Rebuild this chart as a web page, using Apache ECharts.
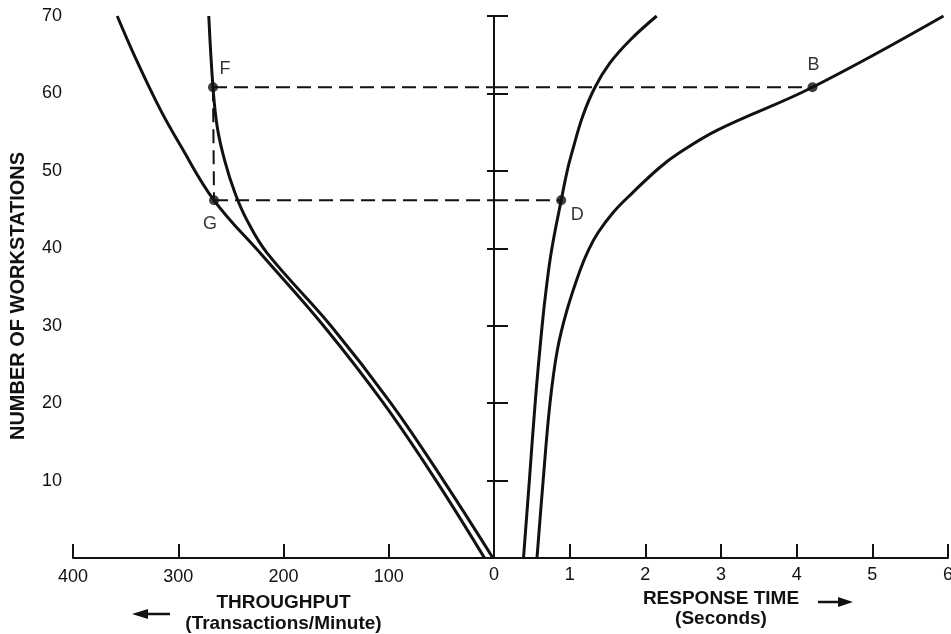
<!DOCTYPE html>
<html>
<head>
<meta charset="utf-8">
<title>Workstations vs throughput and response time</title>
<script src="https://cdn.jsdelivr.net/npm/echarts@6/dist/echarts.min.js"></script>
<style>
    html, body { margin: 0; padding: 0; background: #fff; }
    #chart { width: 951px; height: 634px; }
</style>
</head>
<body>
<div id="chart"></div>
<script>
// throughput curves: [transactions/minute, workstations]
var throughputOuter = [[9, 0], [55, 10], [105, 20], [162, 30], [219, 38.9], [266, 46.2],
    [298, 53.3], [317, 57.9], [341, 64.7], [358, 70]];
var throughputInner = [[1, 0], [48, 10], [98, 20], [155, 30], [215.7, 39.4], [235, 43.7],
    [246, 47.1], [256, 51.4], [263, 55.7], [267, 60.8], [271, 70]];

// response time curves: [seconds, workstations]
var responseD = [[0.39, 0], [0.468, 10.1], [0.547, 20.4], [0.634, 29.8], [0.688, 34.6], [0.762, 39.8],
    [0.888, 46.2], [0.97, 50.1], [1.04, 52.7], [1.17, 57], [1.33, 60.7], [1.53, 63.9],
    [1.80, 66.9], [2.15, 70]];
var responseB = [[0.568, 0], [0.647, 9.7], [0.74, 20], [0.838, 26.9], [0.964, 32], [1.139, 37.2],
    [1.25, 39.8], [1.374, 42], [1.572, 44.6], [1.823, 47.1], [2.186, 50.4], [2.444, 52.3],
    [2.959, 55.3], [4.209, 60.8], [5.94, 70]];

// marked points
var pointF = [267, 60.8];
var pointG = [266, 46.2];
var pointD = [0.888, 46.2];
var pointB = [4.209, 60.8];

var workstationTicks = [0, 10, 20, 30, 40, 50, 60, 70];
var throughputTicks = [0, 100, 200, 300, 400];
var responseTicks = [0, 1, 2, 3, 4, 5, 6];

var FONT = '"Liberation Sans", Arial, sans-serif';
var INK = '#111';

function solidLine(name, xi, yi, data) {
    return {
        name: name, type: 'line', xAxisIndex: xi, yAxisIndex: yi,
        data: data, smooth: 0.4, symbol: 'none', silent: true,
        lineStyle: { color: INK, width: 3 }
    };
}

function dashedLine(name, xi, yi, data) {
    return {
        name: name, type: 'line', xAxisIndex: xi, yAxisIndex: yi,
        data: data, symbol: 'none', silent: true,
        lineStyle: { color: INK, width: 2, type: [14, 7] }
    };
}

function markPoint(name, xi, yi, point, offset) {
    return {
        name: name, type: 'scatter', xAxisIndex: xi, yAxisIndex: yi,
        data: [point], symbolSize: 10, silent: true, z: 5,
        itemStyle: { color: INK },
        label: {
            show: true, formatter: name, position: 'inside', offset: offset,
            color: '#000', fontSize: 18, fontFamily: FONT, textBorderWidth: 0
        }
    };
}

function wsAxis(gridIndex, position, showLabels, tickLen, name) {
    return {
        type: 'value', gridIndex: gridIndex, position: position,
        min: workstationTicks[0], max: workstationTicks[workstationTicks.length - 1], interval: 10,
        name: name, nameLocation: 'middle', nameGap: 45,
        nameTextStyle: {
            color: INK, fontWeight: 'bold', fontSize: 20, fontFamily: FONT,
            padding: [0, 18, 0, 0]
        },
        axisLine: { show: true, lineStyle: { color: INK, width: 2 } },
        axisTick: { show: true, inside: true, length: tickLen, lineStyle: { color: INK, width: 2 } },
        axisLabel: {
            show: showLabels, color: INK, fontSize: 18, fontFamily: FONT, margin: 11,
            formatter: function (v) { return v === 0 ? '' : v; }
        },
        splitLine: { show: false }
    };
}

var chart = echarts.init(document.getElementById('chart'));
var options = {
    backgroundColor: '#fff',
    animation: false,
    grid: [
        { left: 73, right: 457, top: 16, bottom: 76, outerBoundsMode: 'none' },
        { left: 494, right: 3, top: 16, bottom: 76, outerBoundsMode: 'none' }
    ],
    xAxis: [{
        type: 'value', gridIndex: 0, inverse: true,
        min: throughputTicks[0], max: throughputTicks[throughputTicks.length - 1], interval: 100,
        name: '{a|THROUGHPUT}\n{a|(Transactions/Minute)}',
        nameLocation: 'middle', nameGap: 34,
        nameTextStyle: {
            color: INK, fontFamily: FONT,
            rich: { a: { fontWeight: 'bold', fontSize: 19, lineHeight: 21, color: INK, fontFamily: FONT } }
        },
        axisLine: { lineStyle: { color: INK, width: 2 } },
        axisTick: { inside: true, length: 14, lineStyle: { color: INK, width: 2 } },
        axisLabel: {
            color: INK, fontSize: 18, fontFamily: FONT, margin: 10,
            formatter: function (v) { return v === 0 ? '' : v; }
        },
        splitLine: { show: false }
    }, {
        type: 'value', gridIndex: 1,
        min: responseTicks[0], max: responseTicks[responseTicks.length - 1], interval: 1,
        name: '{a|RESPONSE TIME}\n{a|(Seconds)}',
        nameLocation: 'middle', nameGap: 22,
        nameTextStyle: {
            color: INK, fontFamily: FONT,
            rich: { a: { fontWeight: 'bold', fontSize: 19, lineHeight: 20, color: INK, fontFamily: FONT } }
        },
        axisLine: { lineStyle: { color: INK, width: 2 } },
        axisTick: { inside: true, length: 14, lineStyle: { color: INK, width: 2 } },
        axisLabel: { color: INK, fontSize: 18, fontFamily: FONT, margin: 8, showMaxLabel: true },
        splitLine: { show: false }
    }],
    yAxis: [
        wsAxis(0, 'left', true, 14, 'NUMBER OF WORKSTATIONS'),
        wsAxis(0, 'right', false, 7, ''),
        wsAxis(1, 'left', false, 7, '')
    ],
    // direction arrows under the axis titles
    graphic: [
        { type: 'line', shape: { x1: 146, y1: 614, x2: 170, y2: 614 }, style: { stroke: INK, lineWidth: 2.5 } },
        { type: 'polygon', shape: { points: [[132, 614], [148, 609], [148, 619]] }, style: { fill: INK } },
        { type: 'line', shape: { x1: 818, y1: 602, x2: 840, y2: 602 }, style: { stroke: INK, lineWidth: 2.5 } },
        { type: 'polygon', shape: { points: [[853, 602], [838, 597], [838, 607]] }, style: { fill: INK } }
    ],
    series: [
        solidLine('throughput outer', 0, 0, throughputOuter),
        solidLine('throughput inner', 0, 0, throughputInner),
        solidLine('response D', 1, 2, responseD),
        solidLine('response B', 1, 2, responseB),
        dashedLine('F level left', 0, 0, [pointF, [0, pointF[1]]]),
        dashedLine('F level right', 1, 2, [[0, pointB[1]], pointB]),
        dashedLine('G level left', 0, 0, [pointG, [0, pointG[1]]]),
        dashedLine('G level right', 1, 2, [[0, pointD[1]], pointD]),
        dashedLine('F to G', 0, 0, [pointF, pointG]),
        markPoint('F', 0, 0, pointF, [12, -18]),
        markPoint('G', 0, 0, pointG, [-4, 24]),
        markPoint('D', 1, 2, pointD, [16, 15]),
        markPoint('B', 1, 2, pointB, [1, -22])
    ]
};
chart.setOption(options);
chart.resize();
window.onresize = function () {
    chart.resize();
};
</script>
</body>
</html>
